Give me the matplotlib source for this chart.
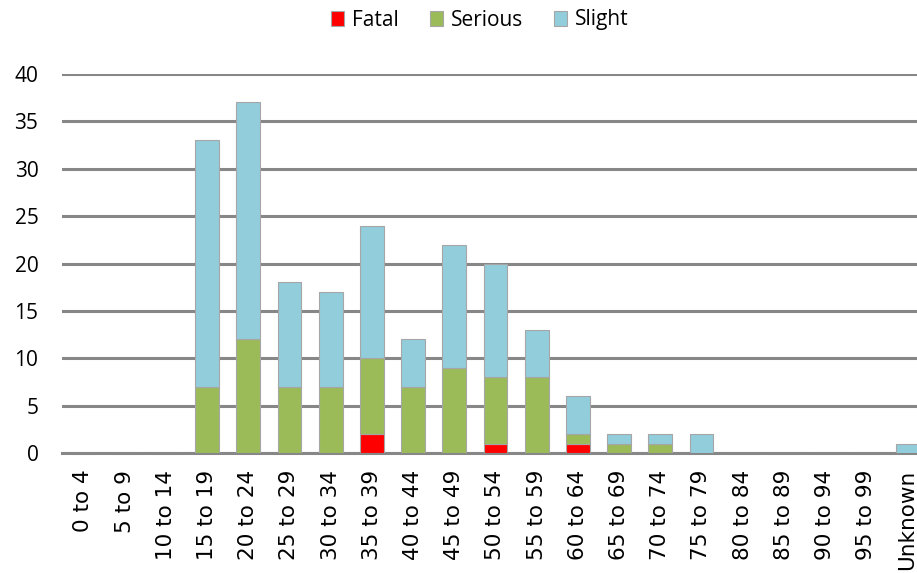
import numpy as np
import matplotlib.pyplot as plt

plt.rcParams['font.family'] = ['Open Sans', 'DejaVu Sans']

# Age bands
age_bands = ['0 to 4', '5 to 9', '10 to 14', '15 to 19', '20 to 24', '25 to 29',
             '30 to 34', '35 to 39', '40 to 44', '45 to 49', '50 to 54', '55 to 59',
             '60 to 64', '65 to 69', '70 to 74', '75 to 79', '80 to 84', '85 to 89',
             '90 to 94', '95 to 99', 'Unknown']
fatal   = [0, 0, 0, 0, 0, 0, 0, 2, 0, 0, 1, 0, 1, 0, 0, 0, 0, 0, 0, 0, 0]
serious = [0, 0, 0, 7, 12, 7, 7, 8, 7, 9, 7, 8, 1, 1, 1, 0, 0, 0, 0, 0, 0]
slight  = [0, 0, 0, 26, 25, 11, 10, 14, 5, 13, 12, 5, 4, 1, 1, 2, 0, 0, 0, 0, 1]

fig = plt.figure(figsize=(9.17, 5.73), dpi=100)
ax = fig.add_axes([62/917, 1 - 453/573, 1 - 62/917, (453 - 74)/573])

x = np.arange(len(age_bands))
w = 0.58
edge = '#a6a6a6'
fatal = np.array(fatal)
serious = np.array(serious)
slight = np.array(slight)

ax.bar(x, fatal, w, color='#ff0000', edgecolor=edge, linewidth=0.8, label='Fatal', zorder=3)
ax.bar(x, serious, w, bottom=fatal, color='#9bbb59', edgecolor=edge, linewidth=0.8,
       label='Serious', zorder=3)
ax.bar(x, slight, w, bottom=fatal + serious, color='#92cddc', edgecolor=edge, linewidth=0.8,
       label='Slight', zorder=3)

ax.set_ylim(0, 40)
ax.set_xlim(-0.52, 20.23)
ax.set_yticks(range(0, 41, 5))
ax.yaxis.grid(True, color='#878787', linewidth=2.2, zorder=0)
ax.set_axisbelow(True)
ax.set_xticks(x)
ax.set_xticklabels(age_bands, rotation=90, fontsize=15.5, family='DejaVu Sans')
ax.tick_params(axis='y', labelsize=15, length=0, pad=17)
ax.tick_params(axis='x', length=0, pad=12)
for s in ['top', 'right', 'left']:
    ax.spines[s].set_visible(False)
ax.spines['bottom'].set_color('#878787')
ax.spines['bottom'].set_linewidth(2.2)

ax.legend(loc='center', bbox_to_anchor=(480/917, 1 - 20/573), bbox_transform=fig.transFigure,
          ncol=3, frameon=False, fontsize=15, handlelength=0.6, handleheight=0.7,
          handletextpad=0.4, columnspacing=1.5)

fig.savefig('out.png', dpi=100)
